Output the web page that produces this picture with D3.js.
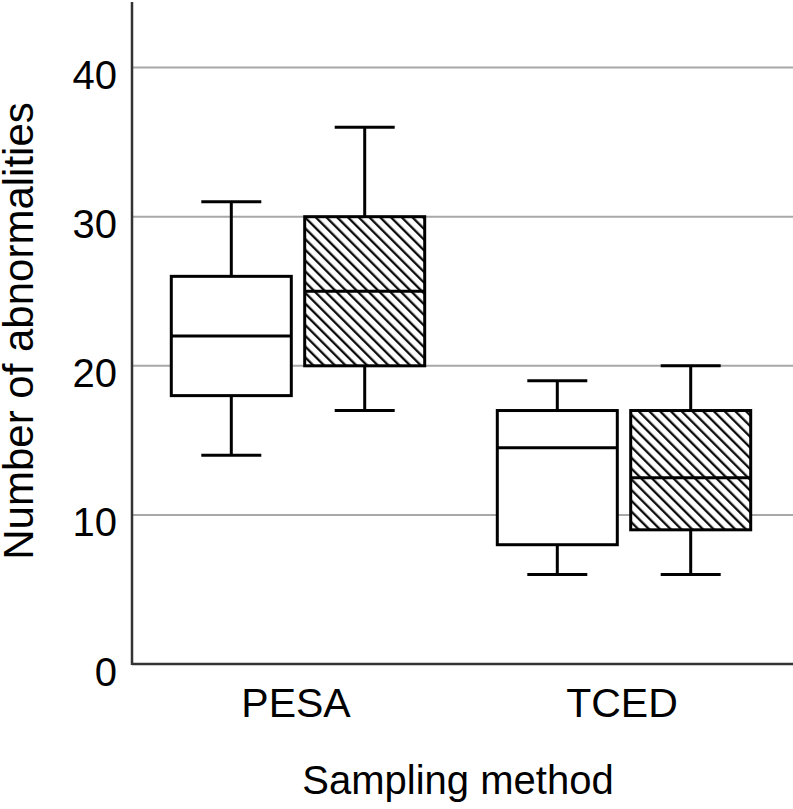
<!DOCTYPE html>
<html>
<head>
<meta charset="utf-8">
<script src="https://cdn.jsdelivr.net/npm/d3@7/dist/d3.min.js"></script>
<style>
  html, body { margin: 0; padding: 0; background: #fff; }
  svg { display: block; }
  text { font-family: "Liberation Sans", Arial, Helvetica, sans-serif; fill: #000; }
</style>
</head>
<body>
<svg id="chart" width="793" height="809"></svg>
<script>
// ---- data ----
const categories = ["PESA", "TCED"];
const seriesNames = ["Group A", "Group B"];        // plain / hatched boxes
// [whiskerLow, Q1, median, Q3, whiskerHigh] per category
const plainBoxes   = [[14, 18, 22, 26, 31], [6, 8, 14.5, 17, 19]];
const hatchedBoxes = [[17, 20, 25, 30, 36], [6, 9, 12.5, 17, 20]];
const yTicks = [0, 10, 20, 30, 40];
const yLabel = "Number of abnormalities";
const xLabel = "Sampling method";

// ---- chart ----
const svg = d3.select("#chart");
const plot = { left: 132, right: 793, top: 2, bottom: 664 };

const y = d3.scaleLinear().domain([0, 44.4]).range([plot.bottom, plot.top]);
const x = d3.scaleBand().domain(categories).range([135, 787]).paddingInner(0).paddingOuter(0);
const xSub = d3.scalePoint().domain(seriesNames).range([-66.7, 66.7]);
const boxW = 120, capW = 60;

const defs = svg.append("defs");
const pat = defs.append("pattern")
  .attr("id", "hatch")
  .attr("patternUnits", "userSpaceOnUse")
  .attr("width", 7.6).attr("height", 7.6)
  .attr("patternTransform", "rotate(-45)");
pat.append("rect").attr("width", 7.6).attr("height", 7.6).attr("fill", "#fff");
pat.append("line").attr("x1", 1.2).attr("y1", 0).attr("x2", 1.2).attr("y2", 7.6)
  .attr("stroke", "#000").attr("stroke-width", 2.2);

// gridlines
svg.append("g").selectAll("line").data(yTicks.filter(d => d > 0)).join("line")
  .attr("x1", plot.left).attr("x2", plot.right)
  .attr("y1", d => y(d)).attr("y2", d => y(d))
  .attr("stroke", "#a8a8a8").attr("stroke-width", 2);

// y tick labels
svg.append("g").selectAll("text").data(yTicks).join("text")
  .attr("x", 117).attr("y", d => y(d) + 21.5)
  .attr("text-anchor", "end").attr("font-size", 40)
  .text(d => d);

// boxes
function drawBoxes(data, name, fill) {
  const g = svg.append("g");
  data.forEach((b, i) => {
    const cx = x(categories[i]) + x.bandwidth() / 2 + xSub(name);
    const [lo, q1, med, q3, hi] = b;
    const ln = (x1, y1, x2, y2) => g.append("line").attr("x1", x1).attr("y1", y1)
      .attr("x2", x2).attr("y2", y2).attr("stroke", "#000").attr("stroke-width", 3);
    ln(cx, y(hi), cx, y(q3));
    ln(cx, y(q1), cx, y(lo));
    ln(cx - capW / 2, y(hi), cx + capW / 2, y(hi));
    ln(cx - capW / 2, y(lo), cx + capW / 2, y(lo));
    g.append("rect")
      .attr("x", cx - boxW / 2).attr("y", y(q3))
      .attr("width", boxW).attr("height", y(q1) - y(q3))
      .attr("fill", fill).attr("stroke", "#000").attr("stroke-width", 3);
    ln(cx - boxW / 2, y(med), cx + boxW / 2, y(med));
  });
}
drawBoxes(plainBoxes, seriesNames[0], "#fff");
drawBoxes(hatchedBoxes, seriesNames[1], "url(#hatch)");

// axes lines
svg.append("line").attr("x1", plot.left).attr("x2", plot.left)
  .attr("y1", plot.top).attr("y2", plot.bottom + 1)
  .attr("stroke", "#333").attr("stroke-width", 2.5);
svg.append("line").attr("x1", plot.left).attr("x2", plot.right)
  .attr("y1", plot.bottom).attr("y2", plot.bottom)
  .attr("stroke", "#333").attr("stroke-width", 2.5);

// x category labels
svg.append("g").selectAll("text").data(categories).join("text")
  .attr("x", d => x(d) + x.bandwidth() / 2 - 2).attr("y", 717)
  .attr("text-anchor", "middle").attr("font-size", 41)
  .text(d => d);

// axis titles
svg.append("text").attr("x", 458).attr("y", 794)
  .attr("text-anchor", "middle").attr("font-size", 40).text(xLabel);
svg.append("text").attr("transform", "translate(33,331) rotate(-90)")
  .attr("text-anchor", "middle").attr("font-size", 42).text(yLabel);
</script>
</body>
</html>
